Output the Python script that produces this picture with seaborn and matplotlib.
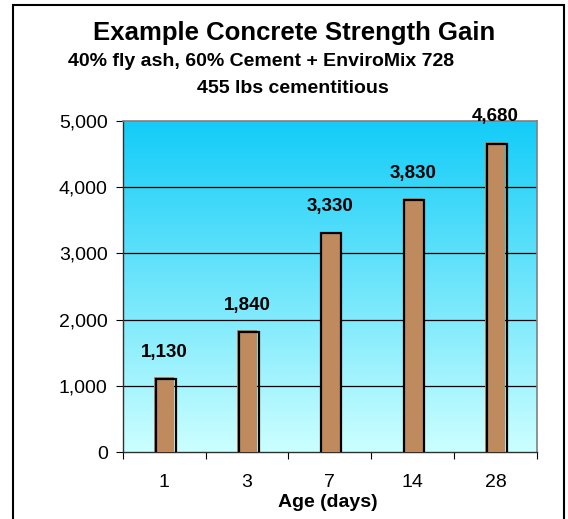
import numpy as np
import pandas as pd
import matplotlib
matplotlib.use('Agg')
import matplotlib.pyplot as plt
import seaborn as sns
from matplotlib.colors import LinearSegmentedColormap
from matplotlib.ticker import FixedLocator, FuncFormatter
from matplotlib.transforms import offset_copy

ages = ['1', '3', '7', '14', '28']
strength = [1130, 1840, 3330, 3830, 4680]
yticks = [0, 1000, 2000, 3000, 4000, 5000]

df = pd.DataFrame({'age': ages, 'psi': strength})

sns.set_style('white')
plt.rcParams['font.family'] = ['Liberation Sans', 'DejaVu Sans']
plt.rcParams['text.color'] = 'black'
plt.rcParams['axes.labelcolor'] = 'black'
plt.rcParams['xtick.color'] = 'black'
plt.rcParams['ytick.color'] = 'black'

fig = plt.figure(figsize=(5.68, 5.19), dpi=100)
fig.patch.set_facecolor('white')
ax = fig.add_axes([0.2165, 0.129, 0.7285, 0.638])

# gradient background
cmap = LinearSegmentedColormap.from_list('bg', ['#CCFFFF', '#12CCF8'])
grad = np.linspace(0, 1, 256).reshape(-1, 1)
ax.imshow(grad, cmap=cmap, origin='lower', aspect='auto',
          extent=[0, 1, 0, 1], transform=ax.transAxes, zorder=0)

sns.barplot(data=df, x='age', y='psi', color='#BF8A5E', width=0.24,
            linewidth=0, saturation=1, ax=ax, zorder=3)

# outline drawn slightly offset, like the original
shift = offset_copy(ax.transData, fig=fig, x=1.5, y=-1.5, units='dots')
for p in ax.patches:
    r = plt.Rectangle(p.get_xy(), p.get_width(), p.get_height(), fill=False,
                      edgecolor='black', lw=1.6, transform=shift, zorder=4)
    ax.add_patch(r)

ax.set_ylim(0, 5000)
ax.set_xlim(-0.5, len(ages) - 0.5)
ax.set_yticks(yticks)
ax.yaxis.set_major_formatter(FuncFormatter(lambda v, p: f'{int(v):,}'))
for y in yticks[1:-1]:
    ax.axhline(y, color='black', lw=0.9, zorder=1)

ax.xaxis.set_minor_locator(FixedLocator(np.arange(-0.5, len(ages), 1)))
ax.tick_params(axis='x', which='major', length=0, pad=16, labelsize=14)
ax.tick_params(axis='x', which='minor', length=5, width=0.8, color='black',
               direction='out', bottom=True)
ax.tick_params(axis='y', length=5, width=0.8, color='black', direction='out',
               left=True, labelsize=14, pad=6)

for s in ['top', 'right']:
    ax.spines[s].set_color('#808080')
    ax.spines[s].set_linewidth(1.2)
for s in ['left', 'bottom']:
    ax.spines[s].set_color('#303030')
    ax.spines[s].set_linewidth(1.0)

for i, v in enumerate(strength):
    ax.annotate(f'{v:,}', (i, v), xytext=(0, 12), textcoords='offset points',
                ha='center', va='bottom', fontsize=13.5, fontweight='bold',
                zorder=5, annotation_clip=False)

ax.set_ylabel('')
ax.set_xlabel('Age (days)', fontsize=14, fontweight='bold')
ax.xaxis.set_label_coords(0.495, -0.128)

fig.text(0.518, 0.936, 'Example Concrete Strength Gain', ha='center',
         va='center', fontsize=18.5, fontweight='bold')
fig.text(0.46, 0.882, '40% fly ash, 60% Cement + EnviroMix 728', ha='center',
         va='center', fontsize=14, fontweight='bold')
fig.text(0.516, 0.829, '455 lbs cementitious', ha='center',
         va='center', fontsize=14, fontweight='bold')

frame = plt.Rectangle((13 / 568, -0.01), (564 - 13) / 568, 1 - 5 / 519 + 0.01,
                      transform=fig.transFigure, fill=False,
                      edgecolor='black', lw=1.5)
fig.patches.append(frame)

fig.savefig('out.png', dpi=100)
